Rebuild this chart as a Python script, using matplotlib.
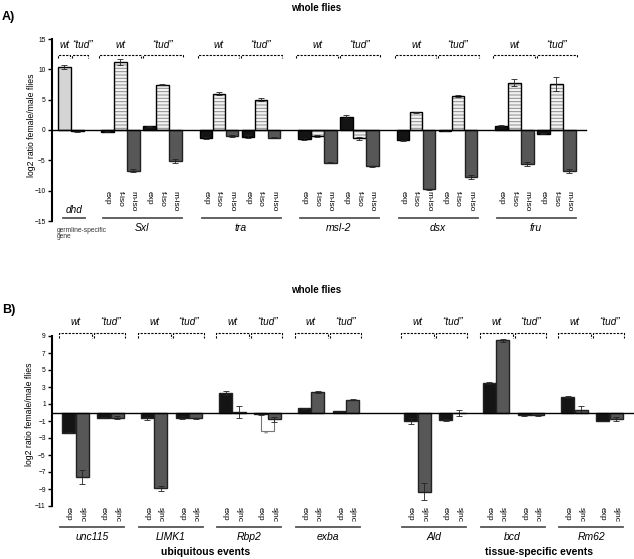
import numpy as np
import matplotlib
matplotlib.use('Agg')
from matplotlib import pyplot as plt

plt.rcParams['font.family'] = ['Liberation Sans', 'DejaVu Sans']
plt.rcParams['hatch.linewidth'] = 0.7

# ------------------------------ DATA ------------------------------
# panel A : whole flies, sex-specific splicing
genes_a = ['Sxl', 'tra', 'msl-2', 'dsx', 'fru']
iso_a = ['exp', 'f-iso', 'm-iso']
wt_a = [[-0.3, 11.2, -6.7],
        [-1.3, 6.0, -1.0],
        [-1.5, -1.0, -5.4],
        [-1.7, 2.9, -9.8],
        [0.7, 7.8, -5.6]]
tud_a = [[0.6, 7.5, -5.1],
         [-1.1, 5.0, -1.3],
         [2.2, -1.4, -6.0],
         [-0.1, 5.6, -7.7],
         [-0.6, 7.6, -6.8]]
wt_a_err = [[0.1, 0.5, 0.2],
            [0.2, 0.3, 0.1],
            [0.1, 0.2, 0.1],
            [0.1, 0.1, 0.1],
            [0.1, 0.6, 0.3]]
tud_a_err = [[0.1, 0.1, 0.4],
             [0.3, 0.2, 0.1],
             [0.2, 0.2, 0.1],
             [0.1, 0.1, 0.3],
             [0.1, 1.1, 0.3]]
dhd_vals = [10.4, -0.2]
dhd_err = [0.3, 0.1]

# panel B : whole flies, exp / sjnc
genes_b = ['unc115', 'LIMK1', 'Rbp2', 'exba', 'Ald', 'bcd', 'Rm62']
iso_b = ['exp', 'sjnc']
wt_b = [[-2.4, -7.6], [-0.7, -8.9], [2.3, 0.1], [0.5, 2.4],
        [-1.0, -9.3], [3.5, 8.5], [1.8, 0.35]]
tud_b = [[-0.6, -0.6], [-0.6, -0.7], [-0.2, -0.8], [0.15, 1.5],
         [-0.9, -0.1], [-0.3, -0.35], [-1.0, -0.8]]
wt_b_err = [[0.05, 0.8], [0.2, 0.3], [0.25, 0.7], [0.05, 0.1],
            [0.3, 1.0], [0.1, 0.2], [0.1, 0.45]]
tud_b_err = [[0.05, 0.2], [0.2, 0.05], [0.1, 0.3], [0.05, 0.05],
             [0.1, 0.35], [0.1, 0.1], [0.05, 0.25]]

W, H = 634, 559
fig = plt.figure(figsize=(W / 100, H / 100), dpi=100)


def pt(x, y):
    # pixel -> figure coords
    return x / W, 1 - y / H


C_EXP = '#141414'
C_MISO = '#575757'
C_FACE = '#f2f2f2'
C_HATCH = '#8c8c8c'
ekw = dict(elinewidth=0.6, capsize=2, capthick=0.6, ecolor='#222222')


def make_axes(x0, x1, ytop, ybot, lo, hi):
    ax = fig.add_axes([x0 / W, 1 - ybot / H, (x1 - x0) / W, (ybot - ytop) / H])
    ax.set_xlim(x0, x1)
    ax.set_ylim(lo, hi)
    ax.patch.set_visible(False)
    for s in ['top', 'right', 'bottom']:
        ax.spines[s].set_visible(False)
    ax.spines['left'].set_linewidth(1.5)
    ax.set_xticks([])
    ax.tick_params(axis='y', direction='out', length=3, width=1, labelsize=4.8, pad=1.5)
    return ax


def bracket(ax, xa, xb, y, dy):
    ax.plot([xa, xa, xb, xb], [y - dy, y, y, y - dy], color='k', lw=0.8,
            ls=(0, (2, 1.2)), clip_on=False)


def hatched_bar(ax, x, v, e, w):
    ax.bar(x, v, w, align='edge', color=C_FACE, edgecolor=C_HATCH, lw=0,
           hatch='-----', zorder=2)
    ax.bar(x, v, w, align='edge', fill=False, edgecolor='k', lw=1,
           yerr=e, error_kw=ekw, zorder=3)


# ------------------------------ PANEL A ------------------------------
ax = make_axes(52, 590, 39, 221, -15, 15)
ax.set_yticks([15, 10, 5, 0, -5, -10, -15])
ya = lambda py: (130 - py) / (182 / 30)
ax.plot([52, 586], [0, 0], color='k', lw=1, zorder=4, clip_on=False)

wa = 12.5
# dhd
ax.bar(58, dhd_vals[0], wa, align='edge', color='#d4d4d4', edgecolor='k', lw=1,
       yerr=dhd_err[0], error_kw=ekw, zorder=3)
ax.bar(71, dhd_vals[1], wa, align='edge', color=C_MISO, edgecolor='k', lw=1,
       yerr=dhd_err[1], error_kw=ekw, zorder=3)
bracket(ax, 58, 70, ya(55), 0.5)
bracket(ax, 72, 88, ya(55), 0.5)
fig.text(*pt(65, 45), 'wt', style='italic', fontsize=7.2, ha='center', va='center')
fig.text(*pt(83, 45), '\u201ctud\u201d', style='italic', fontsize=7.2, ha='center', va='center')
ax.plot([63, 85], [ya(218)] * 2, color='#555555', lw=1.3, clip_on=False)
fig.text(*pt(74, 210), 'dhd', style='italic', fontsize=7.2, ha='center', va='center')
fig.text(*pt(57, 230), 'germline-specific', fontsize=4.8, color='#333333', ha='left', va='center')
fig.text(*pt(57, 237), 'gene', fontsize=4.8, color='#333333', ha='left', va='center')

for i, g in enumerate(genes_a):
    x0 = 101 + 98.5 * i
    for k, (vals, errs) in enumerate([(wt_a[i], wt_a_err[i]), (tud_a[i], tud_a_err[i])]):
        xs = x0 + 42 * k
        ax.bar(xs, vals[0], wa, align='edge', color=C_EXP, edgecolor='k', lw=1,
               yerr=errs[0], error_kw=ekw, zorder=3)
        hatched_bar(ax, xs + 13, vals[1], errs[1], wa)
        ax.bar(xs + 26, vals[2], wa, align='edge', color=C_MISO, edgecolor='#222222',
               lw=1, yerr=errs[2], error_kw=ekw, zorder=3)
        for j, lab in enumerate(iso_a):
            fig.text(*pt(xs + 13 * j + wa / 2, 191), lab, rotation=270, fontsize=6,
                     ha='center', va='top')
        fig.text(*pt(xs + 19.5, 45), ['wt', '\u201ctud\u201d'][k], style='italic',
                 fontsize=7.2, ha='center', va='center')
    mid = x0 + 40.5
    bracket(ax, x0 - 2, mid - 1, ya(55), 0.5)
    bracket(ax, mid + 1, x0 + 42 + 40, ya(55), 0.5)
    ax.plot([x0 + 2, x0 + 81], [ya(218)] * 2, color='#555555', lw=1.3, clip_on=False)
    fig.text(*pt(x0 + 41, 228), g, style='italic', fontsize=7.5, ha='center', va='center')

fig.text(*pt(31, 125), 'log2 ratio female/male flies', rotation=90, fontsize=6.2,
         ha='center', va='center')
fig.text(*pt(316, 8), 'whole flies', fontsize=7, weight='bold', ha='center', va='center')
fig.text(*pt(2, 17), 'A)', fontsize=9, weight='bold', ha='left', va='center')

# ------------------------------ PANEL B ------------------------------
ax = make_axes(52, 634, 336, 506, -11, 9)
ax.set_yticks(np.arange(9, -12, -2))
yb = lambda py: (412.5 - py) / 8.5
ax.plot([52, 634], [0, 0], color='k', lw=1, zorder=4, clip_on=False)

wb = 13
for i, g in enumerate(genes_b):
    x0 = 62 + 78.5 * i + (28 if i >= 4 else 0)
    for k, (vals, errs) in enumerate([(wt_b[i], wt_b_err[i]), (tud_b[i], tud_b_err[i])]):
        xs = x0 + 35 * k
        ax.bar(xs, vals[0], wb, align='edge', color=C_EXP, edgecolor='#222222', lw=1,
               yerr=errs[0], error_kw=ekw, zorder=3)
        ax.bar(xs + 13.5, vals[1], wb, align='edge', color=C_MISO, edgecolor='#222222',
               lw=1, yerr=errs[1], error_kw=ekw, zorder=3)
        for j, lab in enumerate(iso_b):
            fig.text(*pt(xs + 13.5 * j + wb / 2, 507), lab, rotation=270, fontsize=6,
                     ha='center', va='top')
        fig.text(*pt(xs + 13.5, 322), ['wt', '\u201ctud\u201d'][k], style='italic',
                 fontsize=7.2, ha='center', va='center')
    mid = x0 + 31
    bracket(ax, x0 - 3, mid - 1, yb(333), 0.55)
    bracket(ax, mid + 1, x0 + 35 + 28, yb(333), 0.55)
    ax.plot([x0 - 2, x0 + 62], [yb(527)] * 2, color='#555555', lw=1.3, clip_on=False)
    fig.text(*pt(x0 + 30, 537), g, style='italic', fontsize=7.5, ha='center', va='center')

# significance bracket under Rbp2 "tud"
xr = 62 + 78.5 * 2 + 35
ax.plot([xr + 6.5, xr + 6.5, xr + 20, xr + 20], [yb(416), yb(431), yb(431), yb(420)],
        color='#777777', lw=0.8, zorder=2)
fig.text(*pt(xr + 13, 434), '**', fontsize=5, color='#777777', ha='center', va='center')

fig.text(*pt(30, 414), 'log2 ratio female/male flies', rotation=90, fontsize=6.2,
         ha='center', va='center')
fig.text(*pt(316, 290), 'whole flies', fontsize=7, weight='bold', ha='center', va='center')
fig.text(*pt(2, 310), 'B)', fontsize=9, weight='bold', ha='left', va='center')
fig.text(*pt(206, 552), 'ubiquitous events', fontsize=7.5, weight='bold', ha='center', va='center')
fig.text(*pt(539, 552), 'tissue-specific events', fontsize=7.5, weight='bold', ha='center', va='center')

fig.savefig('out.png', dpi=100)
